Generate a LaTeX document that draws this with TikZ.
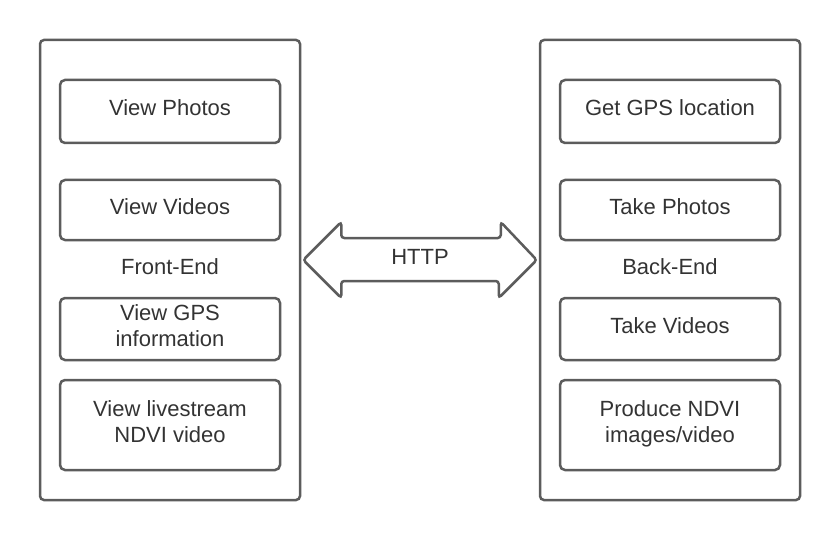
\documentclass[tikz,border=0pt]{standalone}
\usepackage{fontspec}
\setmainfont{Liberation Sans}
\usetikzlibrary{calc}
\definecolor{linegrey}{HTML}{5C5C5C}
\definecolor{textgrey}{HTML}{333333}

\begin{document}
\begin{tikzpicture}[x=1pt,y=-1pt,
  every node/.style={text=textgrey,font=\fontsize{22}{26}\selectfont},
  panel/.style={draw=linegrey,line width=2.5pt,rounded corners=4pt,minimum width=260pt,minimum height=460pt,inner sep=0pt},
  task/.style={draw=linegrey,line width=2.5pt,rounded corners=5pt,minimum width=220pt,align=center,inner sep=0pt,text depth=7pt},
  link/.style={draw=linegrey,line width=2.5pt,rounded corners=3pt,fill=white}]
\useasboundingbox (0,0) rectangle (840,540);

% front end
\node[panel] (front) at (170,270) {};
\node[task,minimum height=63pt] (photos) at (170,111.5) {View Photos};
\node[task,minimum height=60pt] (videos) at (170,210) {View Videos};
\node (fe) at (170,267) {Front-End};
\node[task,minimum height=62pt] (gpsinfo) at (170,329) {View GPS\\information};
\node[task,minimum height=90pt] (livestream) at (170,425) {View livestream\\NDVI video};

% back end
\node[panel] (back) at (670,270) {};
\node[task,minimum height=63pt] (gps) at (670,111.5) {Get GPS location};
\node[task,minimum height=60pt] (takephotos) at (670,210) {Take Photos};
\node (be) at (670,267) {Back-End};
\node[task,minimum height=62pt] (takevideos) at (670,329) {Take Videos};
\node[task,minimum height=90pt] (ndvi) at (670,425) {Produce NDVI\\images/video};

% HTTP link
\draw[link] ($(front.east)+(2,-10)$) -- ++(38,-38) -- ++(0,16) -- ($(back.west)+(-38,-32)$)
  -- ++(0,-16) -- ($(back.west)+(-2,-10)$) -- ++(-38,38) -- ++(0,-17)
  -- ($(front.east)+(40,11)$) -- ++(0,17) -- cycle;
\node (http) at ($(front.east)!0.5!(back.west)+(0,-13)$) {HTTP};
\end{tikzpicture}
\end{document}
